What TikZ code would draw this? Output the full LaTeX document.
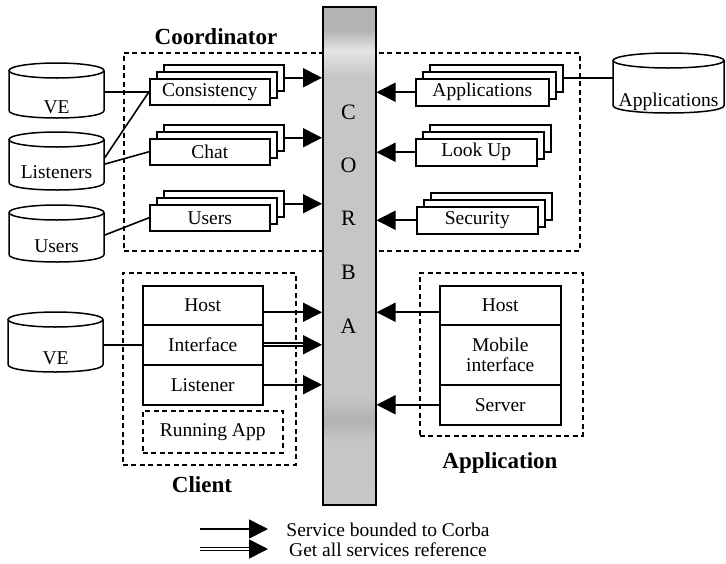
\documentclass[tikz,border=0pt]{standalone}
\usepackage{fontspec}
\setmainfont{Liberation Serif}
\usetikzlibrary{arrows.meta,calc}

% colours of the middleware bar
\definecolor{barT}{RGB}{180,180,180}
\definecolor{barH}{RGB}{228,228,228}
\definecolor{barC}{RGB}{198,198,198}
\definecolor{barD}{RGB}{178,178,178}
\definecolor{barB}{RGB}{200,200,200}
\pgfdeclareverticalshading{corbabar}{100bp}{color(0bp)=(barB); color(25bp)=(barB);
  color(31.4bp)=(barC); color(33.4bp)=(barD); color(36bp)=(barC); color(68bp)=(barC);
  color(70.6bp)=(barH); color(72.6bp)=(barT); color(75bp)=(barT); color(100bp)=(barT)}

\tikzset{
  lbl/.style={font=\fontsize{19.5}{20}\selectfont},
  ttl/.style={font=\fontsize{23}{25}\selectfont\bfseries},
  bigl/.style={font=\fontsize{22}{24}\selectfont},
  svc/.style={draw, line width=1.5pt, fill=white, inner sep=0pt, lbl},
  part/.style={draw, line width=1.5pt, inner sep=0pt, align=center, lbl},
  dbox/.style={draw, line width=1.5pt, dash pattern=on 5pt off 3.5pt, inner sep=0pt},
  cyl/.style={line width=1.5pt},
  conn/.style={line width=1.6pt},
  arr/.style={line width=1.6pt, -{Triangle[length=19pt,width=19pt]}},
  dbl/.style={line width=1.7pt, double, double distance=1.4pt},
}

% stack of three service boxes: name, left, top, width, height, text
\newcommand\svcstack[6]{%
  \node[svc, minimum width=#4pt, minimum height=#5pt, anchor=north west] (#1b) at ({#2+14},{#3-14}) {};
  \node[svc, minimum width=#4pt, minimum height=#5pt, anchor=north west] (#1m) at ({#2+7},{#3-7}) {};
  \node[svc, minimum width=#4pt, minimum height=#5pt, anchor=north west] (#1) at (#2,#3) {#6};
}

% database cylinder: name, left, right, top, bottom, text baseline, text
\newcommand\dbcyl[7]{%
  \pgfmathsetmacro\cylcx{(#2+#3)/2}%
  \pgfmathsetmacro\cylrx{(#3-#2)/2}%
  \pgfmathsetmacro\cylw{#3-#2}%
  \pgfmathsetmacro\cylh{#5-#4}%
  \pgfmathsetmacro\cylya{#4+7.5}%
  \pgfmathsetmacro\cylyb{#5-7.5}%
  \pgfmathsetmacro\cylyc{#5+2.5}%
  \path[fill=white] (#2,\cylya) -- (#2,\cylyb) .. controls (#2,\cylyc) and (#3,\cylyc) .. (#3,\cylyb) -- (#3,\cylya) -- cycle;
  \draw[cyl] (#2,\cylya) -- (#2,\cylyb) .. controls (#2,\cylyc) and (#3,\cylyc) .. (#3,\cylyb) -- (#3,\cylya);
  \draw[cyl, fill=white] (\cylcx,\cylya) ellipse [x radius=\cylrx, y radius=7.5];
  \node[inner sep=0pt, minimum width=\cylw pt, minimum height=\cylh pt, anchor=north west] (#1) at (#2,#4) {};
  \node[lbl, anchor=base, inner sep=0pt] (#1t) at (\cylcx,#6) {#7};
}

\begin{document}
\begin{tikzpicture}[x=1pt,y=-1pt]
\useasboundingbox (0,0) rectangle (726,563);

% group frames
\node[dbox, minimum width=456pt, minimum height=198pt, anchor=north west] (coordbox) at (123,52) {};
\node[dbox, minimum width=173pt, minimum height=192pt, anchor=north west] (clientbox) at (122,272) {};
\node[dbox, minimum width=163pt, minimum height=163pt, anchor=north west] (appbox) at (419,272) {};
\node[ttl, anchor=base] (coordt) at (216,44) {Coordinator};
\node[ttl, anchor=base] (clientt) at (202,492) {Client};
\node[ttl, anchor=base] (appt) at (500,468) {Application};

% CORBA bus
\node[draw, line width=1.5pt, shade, shading=corbabar, minimum width=53pt, minimum height=498pt,
      inner sep=0pt, anchor=north west] (bar) at (322,6) {};
\node[bigl, anchor=base] (lC) at (348.5,119) {C};
\node[bigl, anchor=base] (lO) at (348.5,172) {O};
\node[bigl, anchor=base] (lR) at (348.5,225) {R};
\node[bigl, anchor=base] (lB) at (348.5,279) {B};
\node[bigl, anchor=base] (lA) at (348.5,333) {A};

% coordinator services
\svcstack{cons}{149}{78}{120}{26}{Consistency}
\svcstack{chat}{149}{138}{120}{26}{Chat}
\svcstack{usr}{149}{204}{120}{26}{Users}
\svcstack{apps}{415}{78}{133}{27}{Applications}
\svcstack{look}{415}{138}{121}{27}{Look Up}
\svcstack{sec}{416}{206}{121}{27}{Security}

% databases
\dbcyl{cve}{9}{104}{63}{118}{113}{VE}
\dbcyl{clis}{9}{104}{132}{190}{178}{Listeners}
\dbcyl{cusr}{9}{104}{205}{262}{252}{Users}
\dbcyl{cve2}{8}{103}{312}{372}{364}{VE}
\dbcyl{capp}{613}{724}{53}{113}{106}{Applications}

% client parts
\node[part, minimum width=120pt, minimum height=39pt, anchor=north west] (chost) at (142,285) {Host};
\node[part, minimum width=120pt, minimum height=40pt, anchor=north west] (cint) at (142,324) {Interface};
\node[part, minimum width=120pt, minimum height=40pt, anchor=north west] (clst) at (142,364) {Listener};
\node[dbox, lbl, minimum width=140pt, minimum height=42pt, anchor=north west] (crun) at (142,410) {Running App};

% application parts
\node[part, minimum width=121pt, minimum height=39pt, anchor=north west] (ahost) at (439,285) {Host};
\node[part, minimum width=121pt, minimum height=60pt, anchor=north west] (amob) at (439,324) {Mobile\\interface};
\node[part, minimum width=121pt, minimum height=40pt, anchor=north west] (asrv) at (439,384) {Server};

% database links
\draw[conn] (cve.east |- cons.west) -- (cons.west);
\draw[conn] ($(clis.east)+(0,-3)$) -- (cons.west);
\draw[conn] ($(clis.east)+(0,3)$) -- (chat.west);
\draw[conn] ($(cusr.east)+(0,1.5)$) -- (usr.west);
\draw[conn] (cve2.east |- cint.west) -- (cint.west);
\draw[conn] (appsb.east) -- (appsb.east -| capp.west);

% services bound to the bus
\draw[arr] (consb.east) -- (consb.east -| bar.west);
\draw[arr] (chatb.east) -- (chatb.east -| bar.west);
\draw[arr] (usrb.east) -- (usrb.east -| bar.west);
\draw[arr] (apps.west) -- (apps.west -| bar.east);
\draw[arr] (look.west) -- (look.west -| bar.east);
\draw[arr] (sec.west) -- (sec.west -| bar.east);

\coordinate (hp) at ($(chost.east)+(0,7)$);
\draw[arr] (hp) -- (hp -| bar.west);
\coordinate (ip) at (cint.east);
\coordinate (iq) at (cint.east -| bar.west);
\draw[dbl] (ip) -- ($(iq)+(-14,0)$);
\draw[arr] ($(iq)+(-19,0)$) -- (iq);
\draw[arr] (clst.east) -- (clst.east -| bar.west);

\coordinate (ah) at ($(ahost.west)+(0,7)$);
\draw[arr] (ah) -- (ah -| bar.east);
\draw[arr] (asrv.west) -- (asrv.west -| bar.east);

% legend
\coordinate (la) at (200,529);
\coordinate (lb) at (268,529);
\draw[arr] (la) -- (lb);
\coordinate (lc) at (200,549);
\coordinate (ld) at (268,549);
\draw[dbl] (lc) -- ($(ld)+(-14,0)$);
\draw[arr] ($(ld)+(-19,0)$) -- (ld);
\node[lbl, anchor=base] (lt1) at (388,536) {Service bounded to Corba};
\node[lbl, anchor=base] (lt2) at (388,556) {Get all services reference};
\end{tikzpicture}
\end{document}
